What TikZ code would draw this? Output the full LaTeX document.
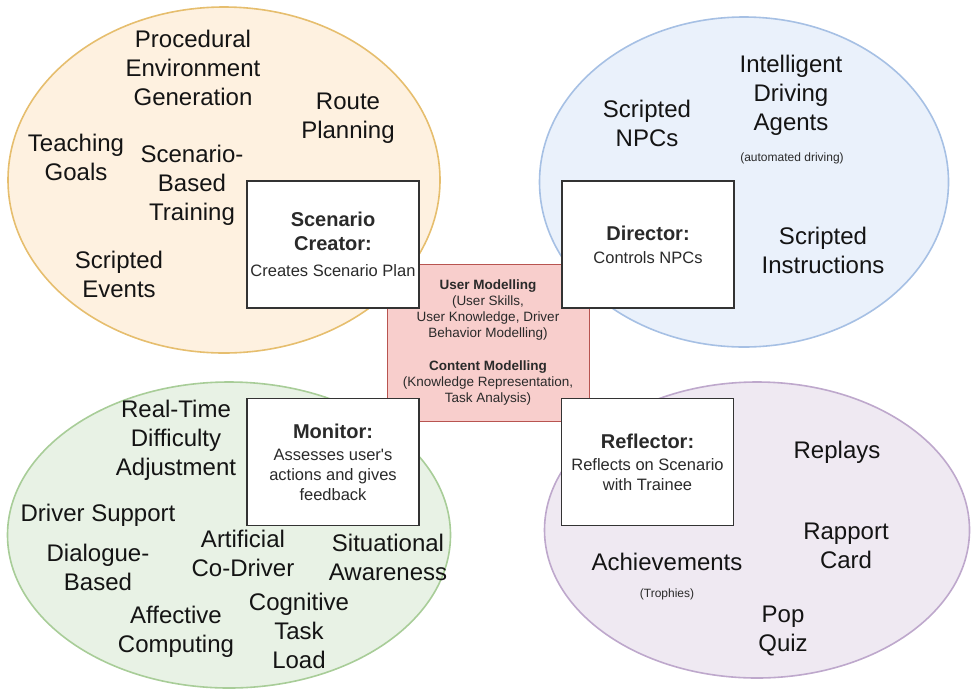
\documentclass[tikz,border=0pt]{standalone}
\usepackage{fontspec}
\setmainfont{Liberation Sans}
\usetikzlibrary{shapes.geometric}

\definecolor{creatorfill}{HTML}{FEF1E0}
\definecolor{creatorline}{HTML}{E6BE6E}
\definecolor{directorfill}{HTML}{EAF1FB}
\definecolor{directorline}{HTML}{A6C0E4}
\definecolor{monitorfill}{HTML}{E8F2E5}
\definecolor{monitorline}{HTML}{A8CD98}
\definecolor{reflectorfill}{HTML}{EFE9F2}
\definecolor{reflectorline}{HTML}{BEA8CC}
\definecolor{corefill}{HTML}{F8CECC}
\definecolor{coreline}{HTML}{B85450}
\definecolor{boxline}{HTML}{333333}
\definecolor{subtext}{HTML}{2A2A2A}

\newcommand{\rolehead}[1]{{\bfseries\fontsize{20}{24}\selectfont #1}}

\begin{document}
\begin{tikzpicture}[
    x=1pt, y=-1pt, % pixel grid, y grows downwards
    bubble/.style={
        ellipse, % the four module areas
        draw,
        line width=1.6pt,
        inner sep=0pt
    },
    role/.style={
        draw=boxline, % white module boxes
        fill=white,
        line width=1.3pt,
        minimum width=172pt,
        minimum height=127pt,
        inner sep=0pt,
        align=center,
        text=subtext,
        font=\fontsize{16.5}{20}\selectfont
    },
    core/.style={
        draw=coreline, % shared user and content model
        fill=corefill,
        line width=0.9pt,
        minimum width=202pt,
        minimum height=157pt,
        inner sep=0pt,
        align=center,
        text=subtext,
        font=\fontsize{13.5}{16}\selectfont
    },
    item/.style={
        align=center, % technique labels
        text=black!92,
        font=\fontsize{24}{29}\selectfont
    },
    note/.style={
        text=subtext,
        font=\fontsize{12}{14}\selectfont
    }
]

\useasboundingbox (0,0) rectangle (973,691);

% module areas
\node[bubble, draw=creatorline, fill=creatorfill,
      minimum width=432pt, minimum height=346pt] (creatorzone) at (224,180) {};
\node[bubble, draw=directorline, fill=directorfill,
      minimum width=409pt, minimum height=330pt] (directorzone) at (744,182) {};
\node[bubble, draw=monitorline, fill=monitorfill,
      minimum width=443pt, minimum height=306pt] (monitorzone) at (229,535) {};
\node[bubble, draw=reflectorline, fill=reflectorfill,
      minimum width=425pt, minimum height=296pt] (reflectorzone) at (757,530) {};

% shared model in the middle
\node[core] (model) at (488,342.5) {%
    \textbf{User Modelling}\\
    (User Skills,\\
    User Knowledge, Driver\\
    Behavior Modelling)\\[17pt]
    \textbf{Content Modelling}\\
    (Knowledge Representation,\\
    Task Analysis)};

% modules
\node[role] (creator) at (333,244.5) {%
    \rolehead{Scenario}\\[4pt]
    \rolehead{Creator:}\\[6pt]
    Creates Scenario Plan};
\node[role] (director) at (648,244.5) {%
    \rolehead{Director:}\\[3pt]
    Controls NPCs};
\node[role] (monitor) at (333,462) {%
    \rolehead{Monitor:}\\[2pt]
    Assesses user\textquotesingle s\\
    actions and gives\\
    feedback};
\node[role] (reflector) at (647.5,462) {%
    \rolehead{Reflector:}\\[2pt]
    Reflects on Scenario\\
    with Trainee};

% scenario creator techniques
\node[item] (procgen) at (193,68) {Procedural\\Environment\\Generation};
\node[item] (route) at (348,118) {Route\\Planning};
\node[item] (teaching) at (76,157) {Teaching\\Goals};
\node[item] (sbt) at (192,185) {Scenario-\\Based\\Training};
\node[item] (events) at (119,274) {Scripted\\Events};

% director techniques
\node[item] (npcs) at (647,123) {Scripted\\NPCs};
\node[item] (agents) at (791,95) {Intelligent\\Driving\\Agents};
\node[note] (automated) at (792,158) {(automated driving)};
\node[item] (instructions) at (823,250) {Scripted\\Instructions};

% monitor techniques
\node[item] (difficulty) at (176,440) {Real-Time\\Difficulty\\Adjustment};
\node[item] (support) at (98,515) {Driver Support};
\node[item] (dialogue) at (98,567) {Dialogue-\\Based};
\node[item] (codriver) at (243,553) {Artificial\\Co-Driver};
\node[item] (awareness) at (388,557) {Situational\\Awareness};
\node[item] (affective) at (176,632) {Affective\\Computing};
\node[item] (load) at (299,631) {Cognitive\\Task\\Load};

% reflector techniques
\node[item] (replays) at (837,452) {Replays};
\node[item] (rapport) at (846,546) {Rapport\\Card};
\node[item] (achievements) at (667,562) {Achievements};
\node[note] (trophies) at (667,594) {(Trophies)};
\node[item] (quiz) at (783,631) {Pop\\Quiz};
\end{tikzpicture}
\end{document}
